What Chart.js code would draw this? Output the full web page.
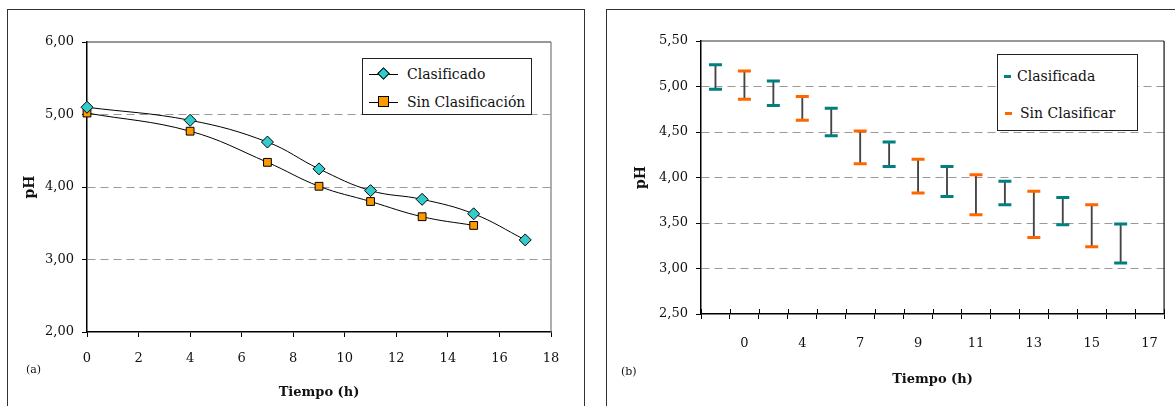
<!DOCTYPE html>
<html lang="es">
<head>
<meta charset="UTF-8">
<title>pH vs Tiempo</title>
<script src="https://cdn.jsdelivr.net/npm/chart.js"></script>
<style>
  body { margin:0; width:1175px; height:406px; overflow:hidden; background:#fff; position:relative; font-family:"DejaVu Serif", serif; color:#111; }
  .panel { position:absolute; top:9px; height:420px; border:1.5px solid #333; box-sizing:border-box; }
  #panelA { left:7px; width:578px; }
  #panelB { left:606px; width:620px; }
  .lienzo { position:absolute; top:10px; height:396px; }
  #wrapA { left:8px; width:575px; }
  #wrapB { left:607px; width:568px; }
  .leyenda { position:absolute; border:1.5px solid #222; background:#fff; box-sizing:border-box; font-size:14px; }
  .fila { position:absolute; left:0; height:18px; line-height:18px; white-space:nowrap; }
  .linea { position:absolute; top:8.5px; height:1px; background:#000; }
  .rombo { position:absolute; width:7px; height:7px; background:#33CCCC; border:1px solid #000; transform:rotate(45deg); }
  .cuadro { position:absolute; width:9px; height:9px; background:#FF9900; border:1px solid #000; }
  .raya { position:absolute; width:7px; height:3px; }
  .letra { position:absolute; font-size:11px; }
</style>
</head>
<body>
  <div class="panel" id="panelA"></div>
  <div class="panel" id="panelB"></div>

  <div class="lienzo" id="wrapA"><canvas id="graficoA" width="575" height="396"></canvas></div>
  <div class="lienzo" id="wrapB"><canvas id="graficoB" width="568" height="396"></canvas></div>

  <!-- leyenda (a) -->
  <div class="leyenda" style="left:362px;top:58px;width:170px;height:57px;">
    <div class="fila" style="top:6px;width:165px;">
      <div class="linea" style="left:6px;width:29px;"></div>
      <div class="rombo" style="left:16px;top:4px;"></div>
      <span style="position:absolute;left:44px;">Clasificado</span>
    </div>
    <div class="fila" style="top:34px;width:165px;">
      <div class="linea" style="left:6px;width:29px;"></div>
      <div class="cuadro" style="left:15px;top:3px;"></div>
      <span style="position:absolute;left:44px;">Sin Clasificación</span>
    </div>
  </div>

  <!-- leyenda (b) -->
  <div class="leyenda" style="left:997px;top:54px;width:141px;height:77px;">
    <div class="fila" style="top:12px;width:138px;">
      <div class="raya" style="left:6px;top:8px;background:#008080;"></div>
      <span style="position:absolute;left:19px;">Clasificada</span>
    </div>
    <div class="fila" style="top:49px;width:138px;">
      <div class="raya" style="left:7px;top:8px;background:#FF6600;"></div>
      <span style="position:absolute;left:22px;">Sin Clasificar</span>
    </div>
  </div>

  <div class="letra" style="left:26px;top:363px;">(a)</div>
  <div class="letra" style="left:621px;top:365px;">(b)</div>

<script>
// (a) pH medio
const tiempoClasificado = [0, 4, 7, 9, 11, 13, 15, 17];
const phClasificado = [5.10, 4.92, 4.62, 4.25, 3.95, 3.83, 3.63, 3.27];
const tiempoSinClasif = [0, 4, 7, 9, 11, 13, 15];
const phSinClasif = [5.02, 4.77, 4.34, 4.01, 3.80, 3.59, 3.47];

// (b) rangos de pH (alto / bajo)
const etiquetasB = ['', '0', '', '4', '', '7', '', '9', '', '11', '', '13', '', '15', '', '17'];
const clasificadaAlto = [5.24, 5.06, 4.76, 4.39, 4.12, 3.96, 3.78, 3.49];
const clasificadaBajo = [4.97, 4.79, 4.46, 4.12, 3.79, 3.70, 3.48, 3.06];
const sinClasificarAlto = [5.17, 4.89, 4.51, 4.20, 4.03, 3.85, 3.70];
const sinClasificarBajo = [4.86, 4.63, 4.15, 3.83, 3.59, 3.34, 3.24];

const fuente = "'DejaVu Serif', serif";
const coma = v => v.toFixed(2).replace('.', ',');

// marco del area de trazado (arriba y derecha)
const marco = {
  id: 'marco',
  beforeDatasetsDraw(chart, args, opts) {
    const a = chart.chartArea, ctx = chart.ctx;
    ctx.save();
    ctx.lineWidth = 1.2;
    ctx.strokeStyle = opts.arriba || '#333';
    ctx.beginPath(); ctx.moveTo(a.left, a.top); ctx.lineTo(a.right, a.top); ctx.stroke();
    ctx.strokeStyle = opts.derecha || '#777';
    ctx.beginPath(); ctx.moveTo(a.right, a.top); ctx.lineTo(a.right, a.bottom); ctx.stroke();
    ctx.restore();
  }
};

function rejilla(min, max) {
  return {
    drawTicks: true,
    tickLength: 5,
    tickColor: '#000',
    color: c => (c.tick && (c.tick.value === min || c.tick.value === max)) ? 'rgba(0,0,0,0)' : '#9a9a9a'
  };
}

// ---------- Grafico (a) ----------
new Chart(document.getElementById('graficoA'), {
  type: 'line',
  data: {
    datasets: [
      {
        label: 'Clasificado',
        data: tiempoClasificado.map((t, i) => ({ x: t, y: phClasificado[i] })),
        borderColor: '#000', borderWidth: 1, tension: 0.4, clip: false,
        pointStyle: 'rectRot', pointRadius: 6, pointBorderWidth: 1,
        pointBackgroundColor: '#33CCCC', pointBorderColor: '#000'
      },
      {
        label: 'Sin Clasificación',
        data: tiempoSinClasif.map((t, i) => ({ x: t, y: phSinClasif[i] })),
        borderColor: '#000', borderWidth: 1, tension: 0.4, clip: false,
        pointStyle: 'rect', pointRadius: 5.5, pointBorderWidth: 1,
        pointBackgroundColor: '#FF9900', pointBorderColor: '#000'
      }
    ]
  },
  options: {
    responsive: false, animation: false, maintainAspectRatio: false,
    layout: { padding: { top: 32, right: 32, left: 0, bottom: 0 } },
    plugins: { legend: { display: false }, tooltip: { enabled: false }, marco: { arriba: '#333', derecha: '#777' } },
    scales: {
      x: {
        type: 'linear', min: 0, max: 18,
        ticks: { stepSize: 2, padding: 14, maxRotation: 0, color: '#111', font: { family: fuente, size: 13 } },
        grid: { drawOnChartArea: false, tickLength: 5, tickColor: '#000' },
        border: { color: '#000', width: 1.5 },
        title: { display: true, text: 'Tiempo (h)', color: '#111', font: { family: fuente, size: 13, weight: 'bold' }, padding: { top: 0, bottom: 6 } },
        afterFit: s => { s.height = 74; }
      },
      y: {
        min: 2, max: 6,
        ticks: { stepSize: 1, padding: 8, color: '#111', callback: v => coma(v), font: { family: fuente, size: 13 } },
        grid: rejilla(2, 6),
        border: { color: '#000', width: 1.5, dash: c => (c.tick ? [8, 5] : []) },
        title: { display: true, text: 'pH', color: '#111', font: { family: fuente, size: 14, weight: 'bold' }, padding: { top: 14, bottom: 0 } },
        afterFit: s => { s.width = 79; }
      }
    }
  },
  plugins: [marco]
});

// ---------- Grafico (b) ----------
const datosClas = etiquetasB.map(() => null);
const datosSin = etiquetasB.map(() => null);
clasificadaAlto.forEach((v, k) => { datosClas[2 * k] = [clasificadaBajo[k], v]; });
sinClasificarAlto.forEach((v, k) => { datosSin[2 * k + 1] = [sinClasificarBajo[k], v]; });

const topes = {
  id: 'topes',
  afterDatasetsDraw(chart) {
    const ctx = chart.ctx;
    chart.data.datasets.forEach((ds, i) => {
      const meta = chart.getDatasetMeta(i);
      meta.data.forEach((bar, j) => {
        if (ds.data[j] == null) return;
        ctx.save();
        ctx.strokeStyle = ds.colorTope;
        ctx.lineWidth = 3;
        ctx.beginPath();
        ctx.moveTo(bar.x - 6.5, bar.y); ctx.lineTo(bar.x + 6.5, bar.y);
        ctx.moveTo(bar.x - 6.5, bar.base); ctx.lineTo(bar.x + 6.5, bar.base);
        ctx.stroke();
        ctx.restore();
      });
    });
    // marcas del eje x que cruzan hacia arriba
    const xs = chart.scales.x, a = chart.chartArea;
    ctx.save();
    ctx.strokeStyle = '#000'; ctx.lineWidth = 1;
    for (let i = 0; i <= etiquetasB.length; i++) {
      const x = Math.round(xs.getPixelForValue(i - 0.5)) + 0.5;
      ctx.beginPath(); ctx.moveTo(x, a.bottom); ctx.lineTo(x, a.bottom - 5); ctx.stroke();
    }
    ctx.restore();
  }
};

new Chart(document.getElementById('graficoB'), {
  type: 'bar',
  data: {
    labels: etiquetasB,
    datasets: [
      { label: 'Clasificada', data: datosClas, backgroundColor: '#444', colorTope: '#008080', barThickness: 1.2, borderWidth: 0 },
      { label: 'Sin Clasificar', data: datosSin, backgroundColor: '#444', colorTope: '#FF6600', barThickness: 1.2, borderWidth: 0 }
    ]
  },
  options: {
    responsive: false, animation: false, maintainAspectRatio: false,
    layout: { padding: { top: 31, right: 4, left: 0, bottom: 0 } },
    datasets: { bar: { grouped: false } },
    plugins: { legend: { display: false }, tooltip: { enabled: false }, marco: { arriba: '#333', derecha: '#111' } },
    scales: {
      x: {
        ticks: { autoSkip: false, maxRotation: 0, padding: 17, color: '#111', font: { family: fuente, size: 13 } },
        grid: { drawOnChartArea: false, tickLength: 5, tickColor: '#000' },
        border: { color: '#000', width: 1.5 },
        title: { display: true, text: 'Tiempo (h)', color: '#111', font: { family: fuente, size: 13, weight: 'bold' }, padding: { top: 0, bottom: 19 } },
        afterFit: s => { s.height = 92; }
      },
      y: {
        min: 2.5, max: 5.5,
        ticks: { stepSize: 0.5, padding: 8, color: '#111', callback: v => coma(v), font: { family: fuente, size: 13 } },
        grid: rejilla(2.5, 5.5),
        border: { color: '#000', width: 1.5, dash: c => (c.tick ? [8, 5] : []) },
        title: { display: true, text: 'pH', color: '#111', font: { family: fuente, size: 14, weight: 'bold' }, padding: { top: 26, bottom: 0 } },
        afterFit: s => { s.width = 94; }
      }
    }
  },
  plugins: [marco, topes]
});
</script>
</body>
</html>
